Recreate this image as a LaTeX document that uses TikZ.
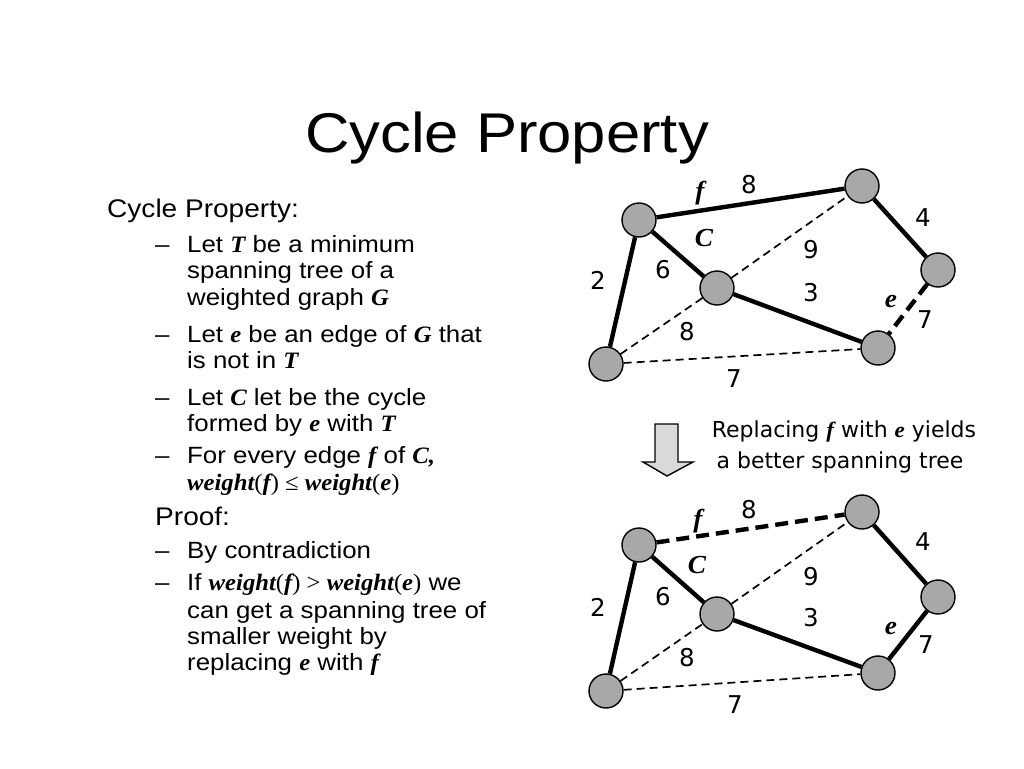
\documentclass[tikz,border=0pt]{standalone}
\usepackage{fontspec}
\setmainfont{Liberation Sans}[FakeStretch=1.1]
\newfontfamily\serifbi{Liberation Serif}[FakeStretch=1.05]
\newfontfamily\capfont{DejaVu Sans}
\newcommand\bi[1]{{\serifbi\bfseries\itshape #1}}
\newcommand\rs[1]{{\serifbi #1}}
\definecolor{nodegray}{RGB}{168,168,168}
\definecolor{arrowgray}{RGB}{217,217,217}
\tikzset{
  vtx/.style={circle,draw=black,line width=1.4pt,fill=nodegray,minimum size=34pt,inner sep=0pt},
  tree/.style={line width=4.4pt},
  nontree/.style={line width=1.7pt,dash pattern=on 8pt off 5pt},
  swap/.style={line width=4.4pt,dash pattern=on 13pt off 7pt},
  wlab/.style={font=\capfont\fontsize{24.5}{26}\selectfont,inner sep=0pt},
  ilab/.style={font=\serifbi\bfseries\itshape\fontsize{26}{28}\selectfont,inner sep=0pt},
  ttl/.style={font=\fontsize{25.5}{30}\selectfont,anchor=base west,inner sep=0pt},
  sub/.style={font=\fontsize{23.5}{28}\selectfont,anchor=base west,inner sep=0pt},
  capt/.style={font=\capfont\fontsize{22}{24}\selectfont,anchor=base,inner sep=0pt},
}
\begin{document}
\begin{tikzpicture}[x=1pt,y=-1pt]
\useasboundingbox (0,0) rectangle (1024,768);
% title
\node[font=\fontsize{56}{60}\selectfont,anchor=base,inner sep=0pt] (title) at (507,152) {Cycle Property};
% left text
\foreach \y/\n in {252/d1,342/d2,405/d3,463/d4,558/d5,590/d6}{
  \node[sub] (\n) at (155,\y) {--};
}
\node[ttl] (l0) at (107,217) {Cycle Property:};
\node[sub] (l1) at (187,252) {Let \bi{T} be a minimum};
\node[sub] (l2) at (187,278) {spanning tree of a};
\node[sub] (l3) at (187,305) {weighted graph \bi{G}};
\node[sub] (l4) at (187,342) {Let \bi{e} be an edge of \bi{G} that};
\node[sub] (l5) at (187,368) {is not in \bi{T}};
\node[sub] (l6) at (187,405) {Let \bi{C} let be the cycle};
\node[sub] (l7) at (187,431) {formed by \bi{e} with \bi{T}};
\node[sub] (l8) at (187,463) {For every edge \bi{f} of \bi{C,}};
\node[sub] (l9) at (187,490) {\bi{weight}\rs{(}\bi{f}\rs{) ≤ }\bi{weight}\rs{(}\bi{e}\rs{)}};
\node[ttl] (l10) at (155,525) {Proof:};
\node[sub] (l11) at (187,558) {By contradiction};
\node[sub] (l12) at (187,590) {If \bi{weight}\rs{(}\bi{f}\rs{) > }\bi{weight}\rs{(}\bi{e}\rs{)} we};
\node[sub] (l13) at (187,618) {can get a spanning tree of};
\node[sub] (l14) at (187,644) {smaller weight by};
\node[sub] (l15) at (187,670) {replacing \bi{e} with \bi{f}};

% ---------- top graph ----------
\node[vtx] (tA) at (639,220) {};
\node[vtx] (tB) at (862,186) {};
\node[vtx] (tC) at (938,270) {};
\node[vtx] (tD) at (717,288) {};
\node[vtx] (tE) at (878,348) {};
\node[vtx] (tF) at (606,364) {};
\draw[tree] (tA) -- (tB);
\draw[tree] (tB) -- (tC);
\draw[swap] (tC) -- (tE);
\draw[tree] (tD) -- (tE);
\draw[tree] (tA) -- (tD);
\draw[tree] (tA) -- (tF);
\draw[nontree] (tD) -- (tB);
\draw[nontree] (tF) -- (tD);
\draw[nontree] (tF) -- (tE);
\node[ilab] (tf) at (700,193) {f};
\node[wlab] (t8a) at (749,185) {8};
\node[wlab] (t4) at (923,218) {4};
\node[ilab] (tCl) at (704,238) {C};
\node[wlab] (t9) at (811,250) {9};
\node[wlab] (t6) at (663,270) {6};
\node[wlab] (t2) at (598,280) {2};
\node[wlab] (t3) at (811,293) {3};
\node[ilab] (te) at (891,301) {e};
\node[wlab] (t7a) at (925,320) {7};
\node[wlab] (t8b) at (687,332) {8};
\node[wlab] (t7b) at (734,379) {7};

% ---------- arrow and caption ----------
\draw[line width=1.4pt,fill=arrowgray] (655,424) -- (678,424) -- (678,462) -- (693,462) -- (667,476) -- (643,462) -- (655,462) -- cycle;
\node[capt] (cap1) at (844,437) {Replacing \bi{f} with \bi{e} yields};
\node[capt] (cap2) at (840,468) {a better spanning tree};

% ---------- bottom graph ----------
\node[vtx] (bA) at (639,545) {};
\node[vtx] (bB) at (862,512) {};
\node[vtx] (bC) at (938,597) {};
\node[vtx] (bD) at (717,614) {};
\node[vtx] (bE) at (878,673) {};
\node[vtx] (bF) at (606,691) {};
\draw[swap] (bA) -- (bB);
\draw[tree] (bB) -- (bC);
\draw[tree] (bC) -- (bE);
\draw[tree] (bD) -- (bE);
\draw[tree] (bA) -- (bD);
\draw[tree] (bA) -- (bF);
\draw[nontree] (bD) -- (bB);
\draw[nontree] (bF) -- (bD);
\draw[nontree] (bF) -- (bE);
\node[ilab] (bf) at (698,521) {f};
\node[wlab] (b8a) at (749,510) {8};
\node[wlab] (b4) at (923,542) {4};
\node[ilab] (bCl) at (697,565) {C};
\node[wlab] (b9) at (811,577) {9};
\node[wlab] (b6) at (663,597) {6};
\node[wlab] (b2) at (598,607) {2};
\node[wlab] (b3) at (811,618) {3};
\node[ilab] (be) at (891,628) {e};
\node[wlab] (b7a) at (926,645) {7};
\node[wlab] (b8b) at (687,658) {8};
\node[wlab] (b7b) at (735,705) {7};
\end{tikzpicture}
\end{document}
